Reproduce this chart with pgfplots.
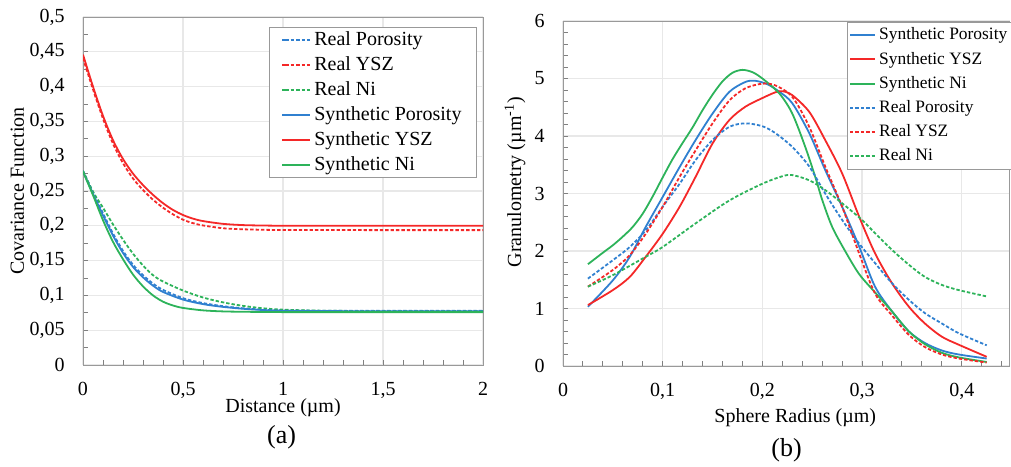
\documentclass[border=0pt]{standalone}
\usepackage{fontspec}
\setmainfont{Liberation Serif}
\usepackage{pgfplots}
\pgfplotsset{compat=1.18}
\definecolor{cblue}{HTML}{3080D0}
\definecolor{cred}{HTML}{F42828}
\definecolor{cgreen}{HTML}{2DB35A}

\pgfplotsset{
  panel/.style={
    scale only axis,
    anchor=south west,
    axis line style={gray!80},
    tick style={gray, line width=0.5pt},
    major tick length=2.5pt,
    minor tick length=2.5pt,
    tick align=inside,
    xtick pos=bottom, ytick pos=left,
    grid=major,
    major grid style={gray!18, line width=0.6pt},
    scaled ticks=false,
    /pgf/number format/fixed,
    /pgf/number format/precision=3,
    /pgf/number format/use comma,
    /pgf/number format/assume math mode=true,
    ticklabel style={font=\fontsize{10}{12}\selectfont},
    xticklabel style={yshift=-5pt},
    yticklabel style={xshift=-5.7pt},
    label style={font=\fontsize{10}{12}\selectfont},
    legend cell align=left,
    every axis plot/.append style={line width=0.9pt, smooth},
  },
  real/.style={dash pattern=on 1.7pt off 1pt},
}

\begin{document}
\begin{tikzpicture}
\path[use as bounding box] (0,0) rectangle (505.5pt,233pt);

% (a) covariance
\begin{axis}[panel,
  at={(41.5pt,50.5pt)},
  width=200pt, height=174pt,
  xmin=0, xmax=2, ymin=0, ymax=0.5,
  xtick={0,0.5,1,1.5,2}, minor x tick num=4,
  ytick={0,0.05,0.1,0.15,0.2,0.25,0.3,0.35,0.4,0.45,0.5}, minor y tick num=1,
  xlabel={Distance (µm)},
  ylabel={Covariance Function},
  x label style={at={(axis description cs:0.5,-0.124)}, anchor=center},
  y label style={at={(axis description cs:-0.164,0.5)}, anchor=center},
  legend style={at={(axis description cs:0.465,0.971)}, anchor=north west,
    draw=gray!80, fill=white, inner xsep=6pt, inner ysep=0pt, row sep=0pt,
    font=\fontsize{10}{12}\selectfont,
    nodes={inner sep=1.5pt, text height=7.3pt, text depth=2.2pt}},
  legend image code/.code={\path (0pt,0pt) -- (1.5pt,0pt); \draw[#1, line width=1pt] (1.5pt,0pt) -- (14pt,0pt);},
]
\addplot[cblue, real] coordinates {(0,0.279)(0.05,0.248)(0.1,0.218)(0.15,0.189)(0.2,0.164)(0.25,0.144)(0.3,0.129)(0.35,0.117)(0.4,0.108)(0.5,0.096)(0.6,0.089)(0.7,0.0845)(0.8,0.0815)(0.9,0.0795)(1,0.0785)(1.2,0.078)(1.5,0.0778)(2,0.0778)};
\addplot[cred, real] coordinates {(0,0.441)(0.05,0.396)(0.1,0.354)(0.15,0.318)(0.2,0.290)(0.25,0.268)(0.3,0.2515)(0.35,0.2375)(0.4,0.226)(0.45,0.2165)(0.5,0.2088)(0.55,0.2038)(0.6,0.2005)(0.7,0.1965)(0.8,0.195)(0.9,0.1943)(1,0.194)(1.5,0.1938)(2,0.1938)};
\addplot[cgreen, real] coordinates {(0,0.279)(0.05,0.249)(0.1,0.226)(0.15,0.202)(0.2,0.180)(0.25,0.160)(0.3,0.143)(0.35,0.129)(0.4,0.120)(0.5,0.107)(0.6,0.097)(0.7,0.090)(0.8,0.085)(0.9,0.0815)(1,0.0795)(1.2,0.078)(1.5,0.0775)(2,0.0775)};
\addplot[cblue] coordinates {(0,0.278)(0.05,0.246)(0.1,0.215)(0.15,0.186)(0.2,0.161)(0.25,0.141)(0.3,0.126)(0.35,0.114)(0.4,0.105)(0.5,0.094)(0.6,0.0875)(0.7,0.0835)(0.8,0.0808)(0.9,0.079)(1,0.078)(1.2,0.0775)(1.5,0.0772)(2,0.0772)};
\addplot[cred] coordinates {(0,0.446)(0.05,0.400)(0.1,0.358)(0.15,0.323)(0.2,0.296)(0.25,0.275)(0.3,0.2585)(0.35,0.2445)(0.4,0.2325)(0.45,0.2228)(0.5,0.2155)(0.55,0.2103)(0.6,0.2068)(0.7,0.2028)(0.8,0.201)(0.9,0.2004)(1,0.2001)(1.25,0.2)(1.5,0.2)(2,0.2)};
\addplot[cgreen] coordinates {(0,0.278)(0.05,0.244)(0.1,0.208)(0.15,0.177)(0.2,0.152)(0.25,0.130)(0.3,0.113)(0.35,0.100)(0.4,0.091)(0.45,0.0855)(0.5,0.082)(0.6,0.0785)(0.7,0.077)(0.8,0.0765)(1,0.076)(1.5,0.076)(2,0.076)};
\legend{Real Porosity, Real YSZ, Real Ni, Synthetic Porosity, Synthetic YSZ, Synthetic Ni}
\end{axis}

% (b) granulometry
\begin{axis}[panel,
  at={(281.5pt,50pt)},
  width=223.3pt, height=172.5pt,
  xmin=0, xmax=0.448, ymin=0, ymax=6,
  xtick={0,0.1,0.2,0.3,0.4},
  minor xtick={0.02,0.04,0.06,0.08,0.12,0.14,0.16,0.18,0.22,0.24,0.26,0.28,0.32,0.34,0.36,0.38,0.42,0.44},
  ytick={0,1,2,3,4,5,6}, minor y tick num=4,
  xlabel={Sphere Radius (µm)},
  ylabel={Granulometry (µm\textsuperscript{-1})},
  x label style={at={(axis description cs:0.52,-0.15)}, anchor=center},
  y label style={at={(axis description cs:-0.1075,0.533)}, anchor=center},
  legend style={at={(axis description cs:0.635,0.998)}, anchor=north west,
    draw=gray!80, fill=white, inner xsep=1pt, inner ysep=0.5pt, row sep=0pt,
    font=\fontsize{8.7}{10}\selectfont,
    nodes={inner sep=1.6pt, text height=6.8pt, text depth=2.1pt}},
  legend image code/.code={\draw[#1, line width=1pt] (0pt,0pt) -- (12.5pt,0pt);},
]
\addplot[cblue] coordinates {(0.025,1.03)(0.05,1.49)(0.067,1.9)(0.083,2.42)(0.1,2.94)(0.117,3.46)(0.133,3.93)(0.15,4.39)(0.167,4.77)(0.183,4.94)(0.193,4.96)(0.205,4.9)(0.217,4.77)(0.23,4.57)(0.247,4.05)(0.263,3.41)(0.28,2.77)(0.297,2.08)(0.313,1.38)(0.33,0.95)(0.347,0.6)(0.363,0.4)(0.38,0.27)(0.397,0.2)(0.425,0.13)};
\addplot[cred] coordinates {(0.025,1.06)(0.05,1.32)(0.067,1.55)(0.083,1.9)(0.1,2.3)(0.117,2.77)(0.133,3.29)(0.15,3.87)(0.167,4.28)(0.183,4.51)(0.2,4.66)(0.213,4.76)(0.22,4.78)(0.23,4.71)(0.247,4.42)(0.263,3.93)(0.28,3.35)(0.297,2.6)(0.313,1.96)(0.33,1.44)(0.347,1.03)(0.363,0.74)(0.38,0.51)(0.397,0.37)(0.425,0.16)};
\addplot[cgreen] coordinates {(0.025,1.77)(0.04,1.97)(0.05,2.1)(0.06,2.25)(0.07,2.42)(0.08,2.65)(0.09,2.95)(0.1,3.28)(0.11,3.6)(0.12,3.88)(0.13,4.15)(0.14,4.45)(0.15,4.72)(0.16,4.95)(0.17,5.1)(0.18,5.15)(0.19,5.11)(0.2,5.0)(0.217,4.74)(0.23,4.39)(0.243,3.81)(0.253,3.29)(0.26,2.89)(0.27,2.42)(0.283,2.0)(0.297,1.6)(0.313,1.28)(0.33,0.95)(0.347,0.6)(0.363,0.38)(0.38,0.23)(0.397,0.15)(0.425,0.07)};
\addplot[cblue, real] coordinates {(0.025,1.52)(0.05,1.84)(0.067,2.07)(0.083,2.36)(0.1,2.77)(0.117,3.17)(0.133,3.58)(0.15,3.93)(0.167,4.16)(0.183,4.22)(0.2,4.17)(0.213,4.05)(0.23,3.81)(0.247,3.47)(0.263,3.0)(0.28,2.54)(0.297,2.13)(0.313,1.79)(0.33,1.44)(0.347,1.15)(0.363,0.92)(0.38,0.74)(0.397,0.57)(0.425,0.36)};
\addplot[cred, real] coordinates {(0.025,1.38)(0.05,1.67)(0.067,1.93)(0.083,2.30)(0.1,2.77)(0.117,3.29)(0.133,3.75)(0.15,4.22)(0.167,4.62)(0.183,4.83)(0.2,4.91)(0.213,4.88)(0.23,4.68)(0.247,4.16)(0.263,3.47)(0.28,2.77)(0.297,1.96)(0.313,1.26)(0.33,0.88)(0.347,0.54)(0.363,0.33)(0.38,0.2)(0.397,0.13)(0.425,0.06)};
\addplot[cgreen, real] coordinates {(0.025,1.38)(0.05,1.58)(0.083,1.9)(0.1,2.07)(0.133,2.48)(0.167,2.88)(0.2,3.17)(0.22,3.3)(0.23,3.32)(0.247,3.23)(0.263,3.06)(0.28,2.83)(0.3,2.54)(0.313,2.31)(0.33,2.02)(0.347,1.76)(0.363,1.55)(0.38,1.41)(0.397,1.32)(0.425,1.21)};
\legend{Synthetic Porosity, Synthetic YSZ, Synthetic Ni, Real Porosity, Real YSZ, Real Ni}
\end{axis}

\node[font=\fontsize{13}{15}\selectfont] at (140.8pt,14.5pt) {(a)};
\node[font=\fontsize{13}{15}\selectfont] at (393.3pt,8pt) {(b)};
\end{tikzpicture}
\end{document}
